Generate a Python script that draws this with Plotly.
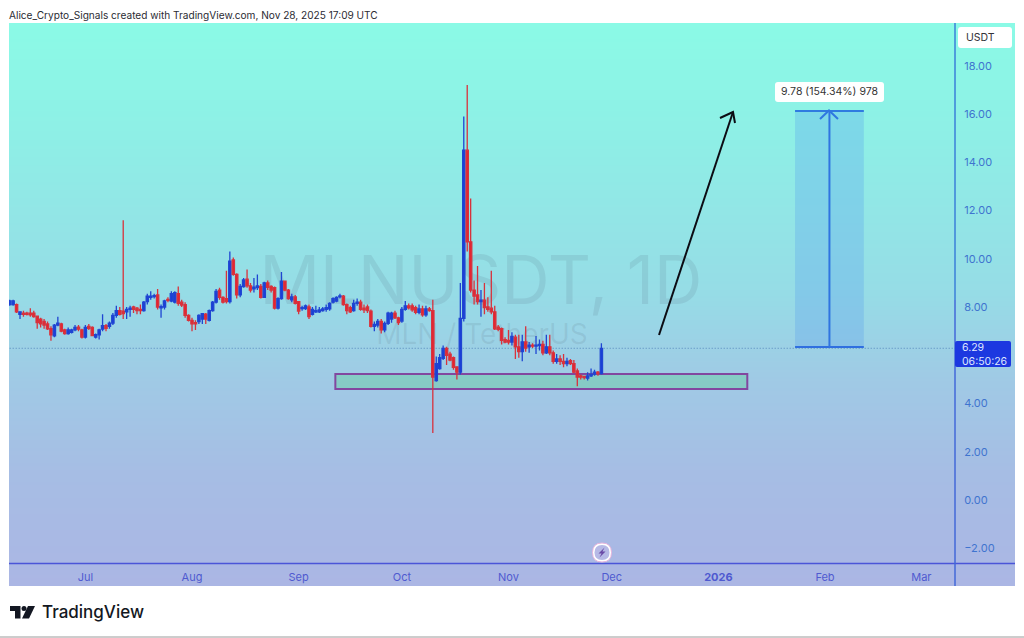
import pandas as pd
import plotly.graph_objects as go

first_day = "2025-06-09"
opens = [
8.10,8.10,8.10,7.70,7.75,7.75,7.75,7.75,7.62,7.50,
7.40,7.30,7.10,6.80,7.25,7.30,7.05,6.90,6.95,7.05,
7.17,7.05,6.75,7.20,7.15,6.75,6.85,7.08,7.23,7.20,
7.33,7.65,7.85,7.83,7.80,7.90,8.00,7.95,7.90,7.85,
8.22,8.40,8.43,8.50,7.97,8.00,8.32,8.25,8.20,8.55,
8.20,8.10,7.65,7.45,7.35,7.40,7.50,7.70,7.45,7.85,
8.20,8.70,8.40,8.35,8.22,9.95,9.35,8.50,8.85,9.15,
8.88,8.75,8.80,8.85,8.40,9.00,8.85,8.80,7.95,8.35,
9.07,8.70,8.30,8.42,8.22,7.93,7.93,8.00,7.70,7.80,
7.80,7.85,7.90,7.92,8.20,8.25,8.42,8.45,8.10,7.97,
7.85,8.15,8.20,7.95,8.00,7.83,7.20,7.25,7.40,7.05,
7.32,7.50,7.75,7.55,7.42,7.90,8.05,8.05,7.97,7.78,
7.92,7.68,7.92,7.85,4.95,5.45,5.87,6.28,6.05,5.90,
5.52,5.30,7.53,14.50,10.70,8.70,8.50,8.22,8.28,8.00,
7.95,7.80,7.17,7.10,6.65,6.62,6.55,6.75,6.35,6.15,
6.55,6.35,6.42,6.38,6.40,6.45,6.10,6.35,6.10,5.75,
5.85,5.75,5.65,5.78,5.65,5.35,5.15,5.12,5.05,5.15,
5.22,5.30,5.24]
highs = [
8.30,8.30,8.15,7.82,7.85,7.80,7.95,7.85,7.65,7.55,
7.50,7.40,7.20,7.30,7.60,7.35,7.10,7.15,7.10,7.25,
7.25,7.10,7.25,7.30,7.20,6.90,7.10,7.70,7.30,7.40,
7.75,8.05,8.00,11.60,8.00,8.05,8.05,8.00,8.10,8.25,
8.55,8.65,8.55,8.75,8.10,8.30,8.40,8.65,8.65,8.85,
8.30,8.20,7.70,7.55,7.45,7.70,7.75,7.75,7.90,8.25,
8.75,8.80,8.45,9.50,10.30,10.05,9.40,8.95,9.20,9.55,
9.00,9.20,9.35,8.95,9.05,9.10,8.90,8.85,8.40,9.45,
9.10,8.75,8.55,8.50,8.25,8.05,8.10,8.10,8.00,8.05,
8.00,8.00,8.10,8.20,8.40,8.45,8.55,8.50,8.15,8.05,
8.30,8.35,8.30,8.10,8.10,7.90,7.40,7.50,7.50,7.40,
7.80,7.80,7.85,7.60,8.00,8.25,8.15,8.15,8.05,8.10,
8.05,8.05,8.00,8.30,5.95,6.05,6.40,6.35,6.15,5.95,
5.55,9.00,15.90,17.20,12.50,9.10,9.70,8.70,9.00,8.40,
9.50,8.05,7.25,7.15,6.75,7.05,6.95,6.85,6.85,6.85,
7.20,6.55,6.50,6.80,6.65,6.60,6.85,6.85,6.20,6.05,
6.00,6.05,5.90,5.85,5.80,5.45,5.20,5.15,5.30,5.45,
5.40,5.35,6.50]
lows = [
8.05,8.05,7.75,7.50,7.60,7.65,7.60,7.55,7.10,7.15,
7.10,7.05,6.60,6.75,7.20,6.95,6.85,6.85,6.90,7.00,
7.00,6.70,6.70,7.05,6.80,6.70,6.65,7.00,7.00,7.10,
7.25,7.55,7.65,7.50,7.50,7.60,7.75,7.70,7.70,7.80,
8.10,8.30,8.35,7.90,7.55,7.90,8.20,8.20,8.15,8.05,
8.00,7.55,7.40,7.00,7.05,7.30,7.30,7.30,7.40,7.80,
8.15,8.30,8.15,8.15,8.15,9.30,8.35,8.40,8.80,8.80,
8.60,8.60,8.70,8.35,8.40,8.70,8.60,7.90,7.90,8.30,
8.65,8.30,8.20,8.10,7.70,7.85,7.88,7.50,7.65,7.75,
7.75,7.80,7.80,7.85,8.15,8.20,8.35,8.05,7.70,7.75,
7.80,8.05,7.85,7.75,7.75,7.15,7.00,7.15,6.90,6.95,
7.25,7.35,7.50,7.25,7.35,7.85,7.90,7.80,7.70,7.70,
7.60,7.60,7.80,2.78,4.90,5.40,5.80,5.60,5.75,5.40,
5.00,5.20,7.40,10.30,8.60,8.10,8.10,7.60,7.70,7.80,
7.70,7.05,7.00,6.45,6.50,6.45,6.40,5.85,5.90,5.75,
6.15,6.10,6.30,6.05,6.20,6.00,6.05,6.00,5.65,5.65,
5.60,5.50,5.55,5.60,5.25,4.72,5.00,5.00,4.95,5.10,
5.15,5.15,5.20]
closes = [
8.25,8.25,7.80,7.80,7.70,7.70,7.68,7.60,7.35,7.30,
7.25,7.10,6.85,7.25,7.33,7.00,6.90,7.05,7.05,7.15,
7.08,6.75,7.15,7.12,6.82,6.85,7.05,7.23,7.12,7.33,
7.65,7.85,7.70,7.73,7.90,7.95,7.90,7.85,7.85,8.20,
8.45,8.45,8.47,8.00,8.02,8.25,8.28,8.55,8.60,8.15,
8.08,7.65,7.45,7.30,7.30,7.65,7.72,7.50,7.85,8.20,
8.65,8.40,8.20,8.22,9.90,9.35,8.50,8.85,9.12,8.88,
8.70,8.82,8.88,8.40,9.00,8.82,8.70,7.95,8.35,9.07,
8.70,8.35,8.42,8.15,7.83,7.97,8.05,7.60,7.90,7.85,
7.88,7.92,7.97,8.15,8.35,8.40,8.46,8.10,7.85,7.80,
8.15,8.20,7.90,7.88,7.85,7.20,7.28,7.40,7.05,7.32,
7.75,7.75,7.55,7.35,7.90,8.05,7.97,7.88,7.78,7.92,
7.68,7.92,7.85,5.10,5.65,5.90,6.28,6.00,5.80,5.50,
5.30,7.53,14.50,10.70,8.70,8.45,8.22,8.28,7.98,7.90,
7.80,7.10,7.07,6.62,6.55,6.55,6.78,6.35,6.15,6.55,
6.30,6.42,6.38,6.42,6.45,6.10,6.35,6.10,5.75,5.85,
5.75,5.65,5.75,5.65,5.30,5.10,5.10,5.07,5.15,5.20,
5.30,5.24,6.29]
assert len(opens) == len(highs) == len(lows) == len(closes) == 173

price_ticks = [18, 16, 14, 12, 10, 8, 4, 2, 0, -2]
date_ticks = ["2025-07-01", "2025-08-01", "2025-09-01", "2025-10-01", "2025-11-01",
              "2025-12-01", "2026-01-01", "2026-02-01", "2026-03-01"]
date_labels = ["Jul", "Aug", "Sep", "Oct", "Nov", "Dec", "<b>2026</b>", "Feb", "Mar"]
last_price = 6.29
zone_low, zone_high = 4.60, 5.22
zone_start, zone_end = "2025-09-11 16:00", "2026-01-09 10:00"
measure_low, measure_high = 6.34, 16.12
measure_start, measure_end, measure_mid = "2026-01-23 07:00", "2026-02-12 07:00", "2026-02-02 07:00"

FONT = "Inter"
dates = pd.date_range(first_day, periods=len(closes), freq="D").strftime("%Y-%m-%d").tolist()

def X(px): return px / 1024
def Y(py): return 1 - py / 638
def rounded(x0, y0, x1, y1, r):
    return (f"M{X(x0+r)},{Y(y0)} L{X(x1-r)},{Y(y0)} Q{X(x1)},{Y(y0)} {X(x1)},{Y(y0+r)} "
            f"L{X(x1)},{Y(y1-r)} Q{X(x1)},{Y(y1)} {X(x1-r)},{Y(y1)} "
            f"L{X(x0+r)},{Y(y1)} Q{X(x0)},{Y(y1)} {X(x0)},{Y(y1-r)} "
            f"L{X(x0)},{Y(y0+r)} Q{X(x0)},{Y(y0)} {X(x0+r)},{Y(y0)} Z")
def poly(points):
    return "M" + " L".join(f"{X(a)},{Y(b)}" for a, b in points) + " Z"
def polyline(points):
    return "M" + " L".join(f"{X(a)},{Y(b)}" for a, b in points)

fig = go.Figure()
bg_scale = [[0, "#8bfae6"], [0.2, "#8eefe6"], [0.48, "#96dce6"], [0.64, "#a0c9e5"], [0.8, "#a6bde4"], [1, "#abb6e4"]]
fig.add_trace(go.Heatmap(x=[9, 1015], y=[23, 586], z=[[0, 0], [1, 1]], colorscale=bg_scale, zmin=0, zmax=1,
                         zsmooth="best", showscale=False, hoverinfo="skip", xaxis="x", yaxis="y"))
fig.add_trace(go.Scatter(x=[481, 482], y=[287, 337], mode="text", text=["MLNUSDT, 1D", "MLN / TetherUS"],
                         textposition="middle center", hoverinfo="skip", showlegend=False, xaxis="x", yaxis="y",
                         textfont=dict(family=FONT, size=[67, 28], color="rgba(80,95,115,0.13)")))
fig.add_trace(go.Candlestick(x=dates, open=opens, high=highs, low=lows, close=closes, xaxis="x2", yaxis="y2",
                             increasing=dict(line=dict(color="#1f45d2", width=1.3), fillcolor="#1a3fd8"),
                             decreasing=dict(line=dict(color="#d8323c", width=1.3), fillcolor="#e8222e"),
                             whiskerwidth=0, showlegend=False, hoverinfo="skip"))

line_blue, line_indigo = "#3b7fd8", "#4a55d8"
shapes = [
    dict(type="rect", xref="x2", yref="y2", x0=zone_start, x1=zone_end, y0=zone_low, y1=zone_high, layer="below",
         fillcolor="rgba(118,205,178,0.62)", line=dict(color="#82479f", width=2)),
    dict(type="line", xref="x2", yref="y2", x0=dates[0], x1="2026-03-11", y0=last_price, y1=last_price, layer="below",
         line=dict(color="#5585ba", width=1, dash="1px,2px")),
    dict(type="rect", xref="x2", yref="y2", x0=measure_start, x1=measure_end, y0=measure_low, y1=measure_high, layer="below",
         fillcolor="rgba(80,150,235,0.27)", line=dict(width=0)),
    dict(type="line", xref="x2", yref="y2", x0=measure_start, x1=measure_end, y0=measure_high, y1=measure_high,
         line=dict(color="#2f7be0", width=2)),
    dict(type="line", xref="x2", yref="y2", x0=measure_start, x1=measure_end, y0=measure_low, y1=measure_low,
         line=dict(color="#2f6fe0", width=2)),
    dict(type="line", xref="x2", yref="y2", x0=measure_mid, x1=measure_mid, y0=measure_low, y1=measure_high,
         line=dict(color="#2f74e0", width=2)),
    dict(type="path", xref="paper", yref="paper", path=polyline([(820, 119), (829, 110.5), (838, 119)]),
         line=dict(color="#2f78e0", width=2)),
    dict(type="path", xref="paper", yref="paper", path=polyline([(659, 335), (733, 112)]),
         line=dict(color="#0c0c14", width=2)),
    dict(type="path", xref="paper", yref="paper", path=polyline([(720, 118), (733, 112), (735, 123)]),
         line=dict(color="#0c0c14", width=2)),
    dict(type="line", xref="paper", yref="paper", x0=X(9), x1=X(1015), y0=Y(563.5), y1=Y(563.5), line=dict(color=line_indigo, width=1.5)),
    dict(type="line", xref="paper", yref="paper", x0=X(955), x1=X(955), y0=Y(23), y1=Y(300), line=dict(color=line_blue, width=1.5)),
    dict(type="line", xref="paper", yref="paper", x0=X(955), x1=X(955), y0=Y(300), y1=Y(586), line=dict(color="#4368d8", width=1.5)),
    dict(type="path", xref="paper", yref="paper", path=rounded(775, 82, 884, 102, 3), fillcolor="#ffffff", line=dict(width=0)),
    dict(type="path", xref="paper", yref="paper", path=rounded(958, 27, 1012, 48, 3), fillcolor="#ffffff", line=dict(width=0)),
    dict(type="path", xref="paper", yref="paper", path=rounded(955, 341, 1011, 367, 2), fillcolor="#1c38e0", line=dict(width=0)),
    dict(type="path", xref="paper", yref="paper", path=rounded(592.5, 543, 611.5, 562, 9.5), fillcolor="#ffffff", line=dict(color="#e7b4dc", width=1)),
    dict(type="path", xref="paper", yref="paper", path=rounded(594.5, 545, 609.5, 560, 7.5), fillcolor="#b6b9e6", line=dict(width=0)),
    dict(type="path", xref="paper", yref="paper", path=poly([(604.5, 547.5), (598.5, 553.5), (601.5, 553.5), (599.5, 557.5), (605.5, 551.5), (602.5, 551.5)]),
         fillcolor="#6a4aa6", line=dict(width=0)),
    dict(type="path", xref="paper", yref="paper", path=poly([(10, 606), (20.5, 606), (20.5, 618.5), (15, 618.5), (15, 611), (10, 611)]),
         fillcolor="#131722", line=dict(width=0)),
    dict(type="path", xref="paper", yref="paper", path=rounded(21.5, 606, 26.5, 611, 2.5), fillcolor="#131722", line=dict(width=0)),
    dict(type="path", xref="paper", yref="paper", path=poly([(28, 606), (35, 606), (29, 618.5), (22, 618.5)]),
         fillcolor="#131722", line=dict(width=0)),
    dict(type="line", xref="paper", yref="paper", x0=0, x1=1, y0=Y(637), y1=Y(637), line=dict(color="#9a9a9a", width=1)),
]

def note(px, py, text, size=11, color="#333333", anchor="left", weight=None, **kw):
    font = dict(family=FONT, size=size, color=color)
    if weight:
        font["weight"] = weight
    return dict(xref="paper", yref="paper", x=X(px), y=Y(py), text=text, showarrow=False, xanchor=anchor, yanchor="middle",
                font=font, **kw)

annotations = [
    note(7, 15, "Alice_Crypto_Signals created with TradingView.com, Nov 28, 2025 17:09 UTC", size=10.1, color="#2b2b33"),
    note(829.5, 92, "9.78 (154.34%) 978", size=10.5, color="#333333", anchor="center"),
    note(964, 37.5, "USDT", size=10.5, color="#333338"),
    note(960, 354.5, "6.29<br>06:50:26", size=10.5, color="#dfe7ff", align="left"),
    note(40, 612, "TradingView", size=17, color="#131722", weight=500),
]

fig.update_layout(
    width=1024, height=638, autosize=False, margin=dict(l=0, r=0, t=0, b=0), boxgap=0.05,
    paper_bgcolor="#ffffff", plot_bgcolor="rgba(0,0,0,0)", showlegend=False, dragmode=False,
    shapes=shapes, annotations=annotations,
    xaxis=dict(domain=[X(9), X(1015)], range=[9, 1015], visible=False, fixedrange=True),
    yaxis=dict(domain=[Y(586), Y(23)], range=[586, 23], visible=False, fixedrange=True),
    xaxis2=dict(domain=[X(9), X(955)], anchor="y2", type="date", range=["2025-06-08 19:12", "2026-03-10 19:00"],
                rangeslider=dict(visible=False), showgrid=False, zeroline=False, showline=False,
                tickmode="array", tickvals=date_ticks, ticktext=date_labels, ticks="outside", ticklen=3,
                tickcolor="rgba(0,0,0,0)", tickfont=dict(family=FONT, size=11, color="#4f5ad0"), fixedrange=True),
    yaxis2=dict(domain=[Y(564), Y(23)], anchor="x2", side="right", range=[-2.65, 19.77], showgrid=False, zeroline=False,
                showline=False, tickmode="array", tickvals=price_ticks, tickformat=".2f", ticks="outside", ticklen=6,
                tickcolor="rgba(0,0,0,0)", tickfont=dict(family=FONT, size=11, color="#3f74cf"), fixedrange=True),
)
fig.write_html("out.html", config=dict(displayModeBar=False), post_script="document.body.style.margin='0';")
